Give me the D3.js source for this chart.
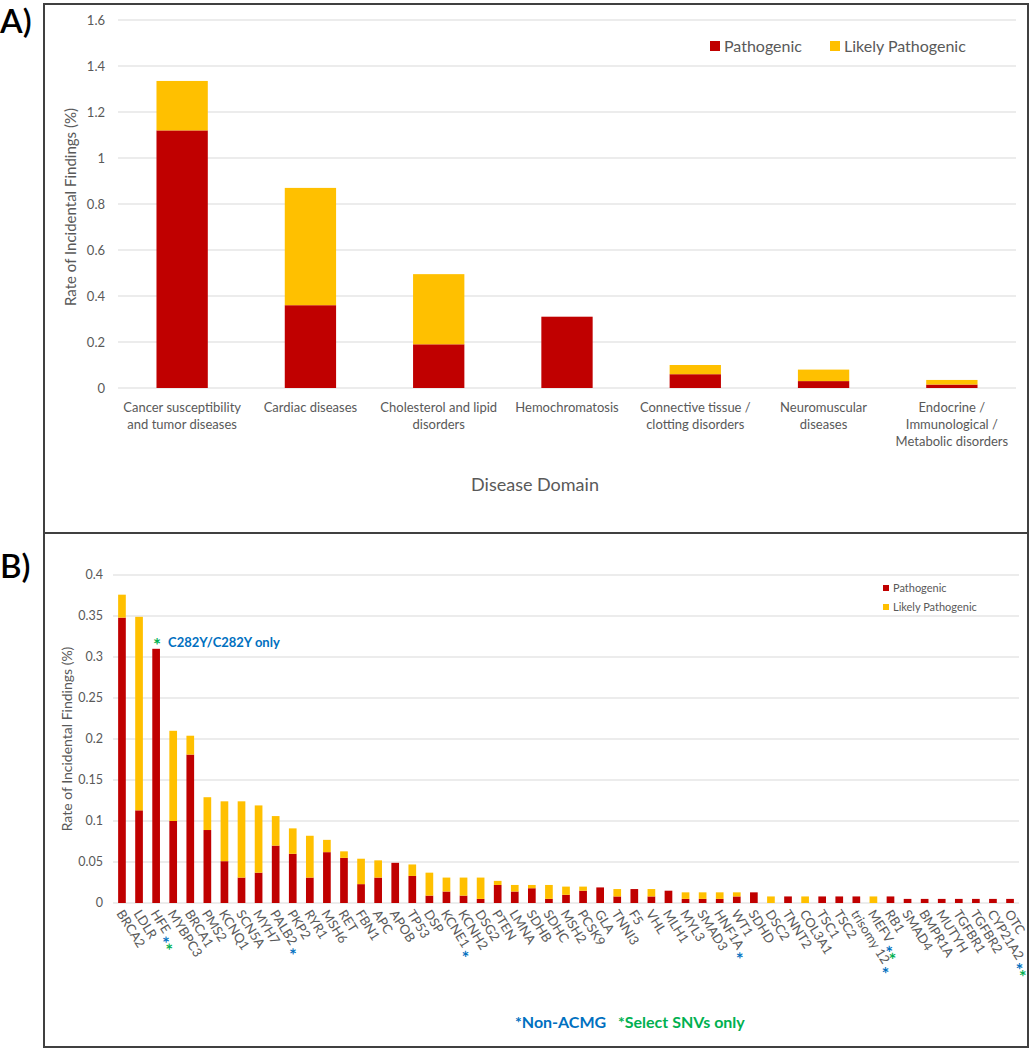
<!DOCTYPE html>
<html>
<head>
  <meta charset="utf-8">
  <title>Incidental Findings</title>
  <script src="https://d3js.org/d3.v7.min.js"></script>
  <style>
    body { margin: 0; background: #fff; }
    svg text { font-family: Lato, 'Open Sans', sans-serif; }
  </style>
</head>
<body>
<div id="chart"></div>
<script>
// ---- Panel A data ----
var domains = ["Cancer susceptibility\nand tumor diseases", "Cardiac diseases", "Cholesterol and lipid\ndisorders",
  "Hemochromatosis", "Connective tissue /\nclotting disorders", "Neuromuscular\ndiseases",
  "Endocrine /\nImmunological /\nMetabolic disorders"];
var pathA   = [1.12, 0.36, 0.19, 0.31, 0.06, 0.03, 0.015];
var likelyA = [0.215, 0.51, 0.305, 0, 0.04, 0.05, 0.02];
var ticksA  = [0, 0.2, 0.4, 0.6, 0.8, 1, 1.2, 1.4, 1.6];
var tickLabelsA = ["0", "0.2", "0.4", "0.6", "0.8", "1", "1.2", "1.4", "1.6"];

// ---- Panel B data ----
var genes = ["BRCA2", "LDLR", "HFE", "MYBPC3", "BRCA1", "PMS2", "KCNQ1", "SCN5A", "MYH7", "PALB2", "PKP2", "RYR1",
  "MSH6", "RET", "FBN1", "APC", "APOB", "TP53", "DSP", "KCNE1", "KCNH2", "DSG2", "PTEN", "LMNA", "SDHB", "SDHC",
  "MSH2", "PCSK9", "GLA", "TNNI3", "F5", "VHL", "MLH1", "MYL3", "SMAD3", "HNF1A", "WT1", "SDHD", "DSC2", "TNNT2",
  "COL3A1", "TSC1", "TSC2", "trisomy 12", "MEFV", "RB1", "SMAD4", "BMPR1A", "MUTYH", "TGFBR1", "TGFBR2", "CYP21A2", "OTC"];
var pathB = [0.348, 0.113, 0.31, 0.10, 0.181, 0.089, 0.051, 0.031, 0.037, 0.070, 0.060, 0.031,
  0.062, 0.055, 0.023, 0.031, 0.049, 0.033, 0.009, 0.014, 0.009, 0.005, 0.022, 0.014, 0.018, 0.005,
  0.010, 0.015, 0.019, 0.008, 0.017, 0.008, 0.015, 0.005, 0.005, 0.005, 0.008, 0.013, 0, 0.008,
  0, 0.008, 0.008, 0.008, 0, 0.008, 0.005, 0.005, 0.005, 0.005, 0.005, 0.005, 0.005];
var likelyB = [0.028, 0.236, 0, 0.11, 0.023, 0.040, 0.073, 0.093, 0.082, 0.036, 0.031, 0.051,
  0.015, 0.008, 0.031, 0.021, 0, 0.014, 0.028, 0.017, 0.022, 0.026, 0.005, 0.008, 0.004, 0.017,
  0.010, 0.005, 0, 0.009, 0, 0.009, 0, 0.008, 0.008, 0.008, 0.005, 0, 0.008, 0,
  0.008, 0, 0, 0, 0.008, 0, 0, 0, 0, 0, 0, 0, 0];
var ticksB = [0, 0.05, 0.1, 0.15, 0.2, 0.25, 0.3, 0.35, 0.4];
var tickLabelsB = ["0", "0.05", "0.1", "0.15", "0.2", "0.25", "0.3", "0.35", "0.4"];
var nonAcmg = ["HFE", "PALB2", "KCNE1", "HNF1A", "trisomy 12", "MEFV", "CYP21A2"];
var selectSnv = ["HFE", "MEFV", "CYP21A2"];

var seriesNames = ["Pathogenic", "Likely Pathogenic"];
var colors = ["#c00000", "#ffc000"];
var BLUE = "#0070c0", GREEN = "#00b050", GREY = "#595959";

var svg = d3.select("#chart").append("svg")
  .attr("width", 1032).attr("height", 1050);

// frames
svg.append("rect").attr("x", 44).attr("y", 4).attr("width", 984).attr("height", 1043)
  .attr("fill", "none").attr("stroke", "#404040").attr("stroke-width", 2);
svg.append("line").attr("x1", 44).attr("x2", 1028).attr("y1", 533).attr("y2", 533)
  .attr("stroke", "#404040").attr("stroke-width", 2);

svg.append("text").attr("x", 0).attr("y", 33).text("A)")
  .style("font-size", "33px").style("font-weight", 600);
svg.append("text").attr("x", 0).attr("y", 578).text("B)")
  .style("font-size", "33px").style("font-weight", 600);

function stackRows(names, p, l) {
  var rows = names.map(function(n, i) { return { name: n, Pathogenic: p[i], "Likely Pathogenic": l[i] }; });
  return d3.stack().keys(seriesNames)(rows);
}

function yAxis(g, y, ticks, labels, x0, x1, fs, off) {
  g.selectAll("line.grid").data(ticks).enter().append("line")
    .attr("x1", x0).attr("x2", x1)
    .attr("y1", function(d) { return y(d); }).attr("y2", function(d) { return y(d); })
    .attr("stroke", "#d9d9d9").attr("stroke-width", 1);
  g.selectAll("text.tl").data(ticks).enter().append("text")
    .attr("x", x0 - off).attr("y", function(d) { return y(d); }).attr("dy", "0.35em")
    .attr("text-anchor", "end").attr("fill", GREY).style("font-size", fs)
    .text(function(d, i) { return labels[i]; });
}

// ===== Panel A =====
var xA = d3.scaleBand().domain(domains).range([118, 1016]).paddingInner(0.6).paddingOuter(0.3);
var yA = d3.scaleLinear().domain([0, 1.6]).range([388, 20]);
var gA = svg.append("g");
yAxis(gA, yA, ticksA, tickLabelsA, 118, 1016, "13px", 13);

gA.selectAll("g.s").data(stackRows(domains, pathA, likelyA)).enter().append("g")
  .attr("fill", function(d, i) { return colors[i]; })
  .selectAll("rect").data(function(d) { return d; }).enter().append("rect")
    .attr("x", function(d) { return xA(d.data.name); })
    .attr("width", xA.bandwidth())
    .attr("y", function(d) { return yA(d[1]); })
    .attr("height", function(d) { return yA(d[0]) - yA(d[1]); });

gA.selectAll("text.cat").data(domains).enter().append("text")
  .attr("text-anchor", "middle").attr("fill", GREY).style("font-size", "13px")
  .attr("transform", function(d) { return "translate(" + (xA(d) + xA.bandwidth() / 2) + ",412)"; })
  .each(function(d) {
    var t = d3.select(this);
    d.split("\n").forEach(function(line, i) {
      t.append("tspan").attr("x", 0).attr("dy", i ? 17 : 0).text(line);
    });
  });

gA.append("text").attr("x", 535).attr("y", 491).attr("text-anchor", "middle")
  .attr("fill", GREY).style("font-size", "18px").text("Disease Domain");
gA.append("text").attr("transform", "translate(76,207) rotate(-90)").attr("text-anchor", "middle")
  .attr("fill", GREY).style("font-size", "15px").text("Rate of Incidental Findings (%)");

// legend A
var legA = gA.append("g").attr("transform", "translate(710,46)");
seriesNames.forEach(function(s, i) {
  var lx = i ? 120 : 0;
  legA.append("rect").attr("x", lx).attr("y", -5).attr("width", 10).attr("height", 10).attr("fill", colors[i]);
  legA.append("text").attr("x", lx + 14).attr("dy", "0.35em").attr("fill", GREY)
    .style("font-size", "16px").text(s);
});

// ===== Panel B =====
var xB = d3.scaleBand().domain(genes).range([113, 1019]).paddingInner(0.55).paddingOuter(0.3);
var yB = d3.scaleLinear().domain([0, 0.4]).range([903, 575]);
var gB = svg.append("g");
yAxis(gB, yB, ticksB, tickLabelsB, 113, 1019, "12.5px", 10);

gB.selectAll("g.s").data(stackRows(genes, pathB, likelyB)).enter().append("g")
  .attr("fill", function(d, i) { return colors[i]; })
  .selectAll("rect").data(function(d) { return d; }).enter().append("rect")
    .attr("x", function(d) { return xB(d.data.name); })
    .attr("width", xB.bandwidth())
    .attr("y", function(d) { return yB(d[1]); })
    .attr("height", function(d) { return yB(d[0]) - yB(d[1]); });

gB.selectAll("text.gene").data(genes).enter().append("text")
  .attr("transform", function(d) { return "translate(" + (xB(d) + xB.bandwidth() / 2 - 2) + ",911) rotate(58)"; })
  .attr("fill", GREY).style("font-size", "13px")
  .each(function(d) {
    var t = d3.select(this);
    t.append("tspan").attr("dy", "0.35em").text(d);
    if (nonAcmg.indexOf(d) >= 0)
      t.append("tspan").attr("dx", 2).attr("dy", 11).attr("fill", BLUE)
        .style("font-size", "18px").style("font-weight", 700).text("*");
    if (selectSnv.indexOf(d) >= 0)
      t.append("tspan").attr("dx", 0).attr("dy", 1).attr("fill", GREEN)
        .style("font-size", "18px").style("font-weight", 700).text("*");
  });

gB.append("text").attr("transform", "translate(72,739) rotate(-90)").attr("text-anchor", "middle")
  .attr("fill", GREY).style("font-size", "14px").text("Rate of Incidental Findings (%)");

// HFE annotation
var hfeX = xB("HFE") + xB.bandwidth() / 2;
gB.append("text").attr("x", hfeX + 1).attr("y", yB(0.31) + 3).attr("text-anchor", "middle")
  .attr("fill", GREEN).style("font-size", "19px").style("font-weight", 700).text("*");
gB.append("text").attr("x", hfeX + 12).attr("y", yB(0.31) - 2)
  .attr("fill", BLUE).style("font-size", "13px").style("font-weight", 700).text("C282Y/C282Y only");

// legend B
var legB = gB.append("g").attr("transform", "translate(883,588)");
seriesNames.forEach(function(s, i) {
  legB.append("rect").attr("x", 0).attr("y", i * 19 - 3).attr("width", 6).attr("height", 6).attr("fill", colors[i]);
  legB.append("text").attr("x", 10).attr("y", i * 19).attr("dy", "0.35em").attr("fill", GREY)
    .style("font-size", "11px").text(s);
});

// footnote
gB.append("text").attr("x", 515).attr("y", 1028).attr("fill", BLUE)
  .style("font-size", "16px").style("font-weight", 700).text("*Non-ACMG");
gB.append("text").attr("x", 618).attr("y", 1028).attr("fill", GREEN)
  .style("font-size", "16px").style("font-weight", 700).text("*Select SNVs only");
</script>
</body>
</html>
